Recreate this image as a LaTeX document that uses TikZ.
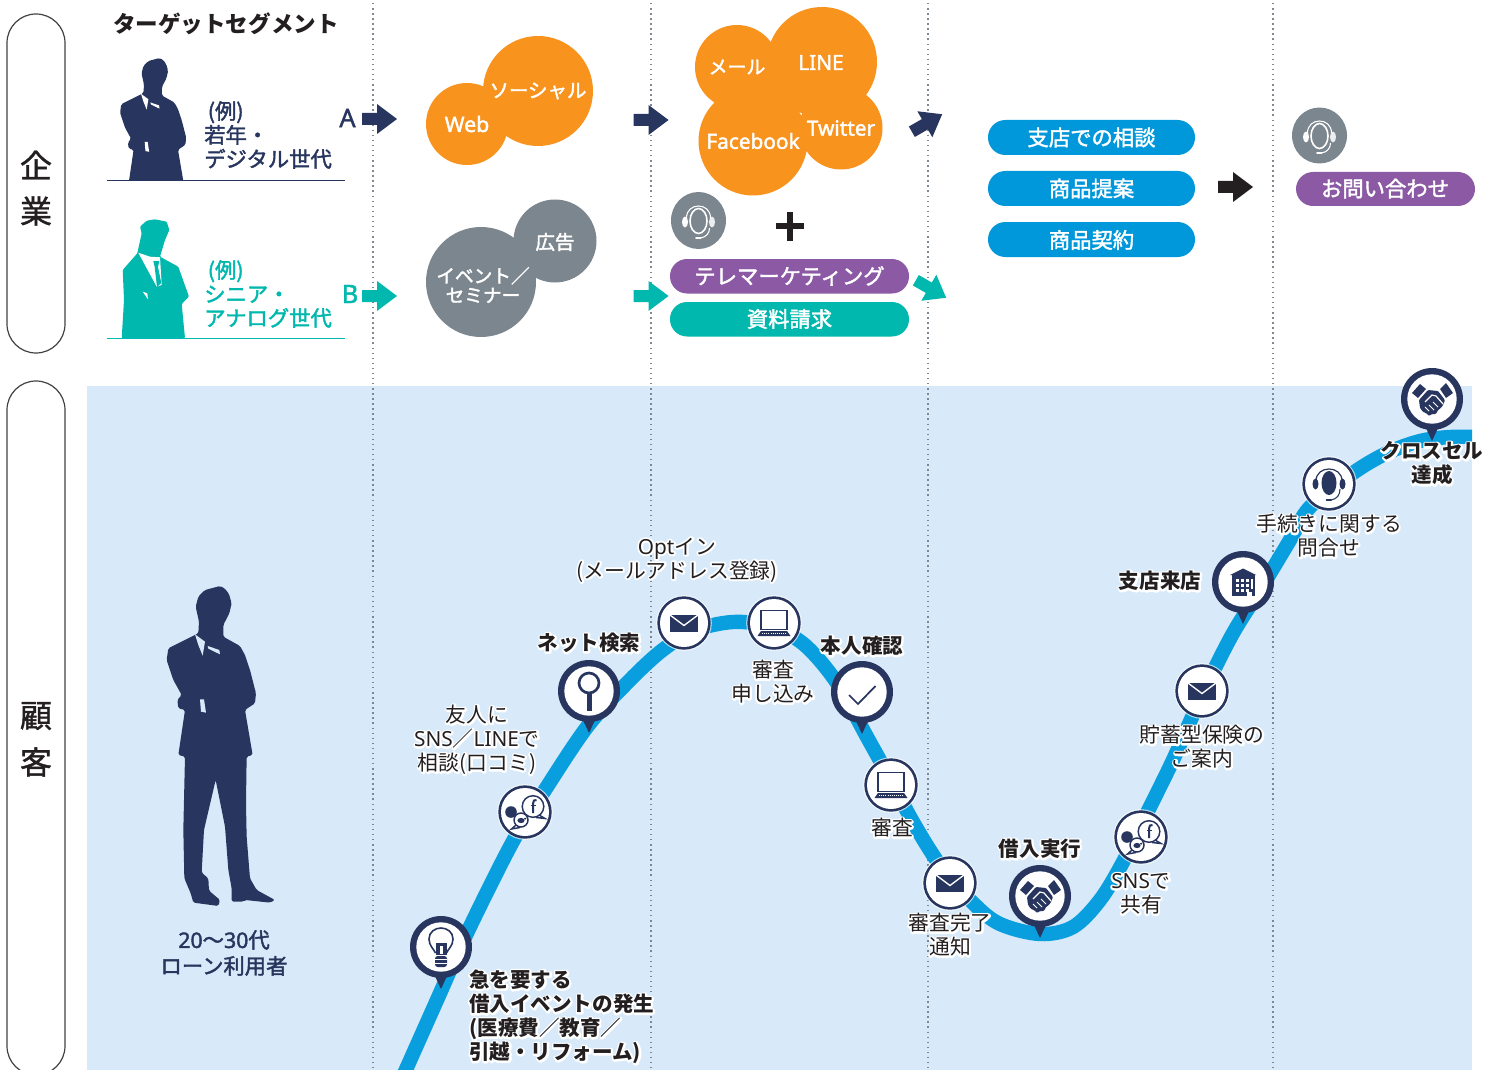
\documentclass[tikz,border=0pt]{standalone}
\usepackage{fontspec}
\setmainfont{Noto Sans CJK JP}
\newfontfamily\lafont{Noto Sans}
\definecolor{navy}{HTML}{28365F}
\definecolor{tealc}{HTML}{00B8AD}
\definecolor{orangec}{HTML}{F8931D}
\definecolor{grayc}{HTML}{7C868E}
\definecolor{purplec}{HTML}{8C5AA5}
\definecolor{bluec}{HTML}{0098DA}
\definecolor{curvec}{HTML}{099EDD}
\definecolor{skyc}{HTML}{D8EAF9}
\definecolor{inkc}{HTML}{231F20}
\definecolor{dotc}{HTML}{7F8890}
\newcommand\la[1]{{\lafont #1}}
% white outline under a line of text
\newcommand\hl[1]{\leavevmode\rlap{\special{pdf:code 1 1 1 RG 1 Tr 2.8 w 1 j}#1\special{pdf:code 0 Tr 0 j 0 0 0 RG}}#1}
% slightly heavier text, stroked in its own colour
\newcommand\md[1]{\special{pdf:code 2 Tr 0.3 w}#1\special{pdf:code 0 Tr}}
% standing figure outline
\newcommand\manpath{(270,48) -- (285,56) -- (297,72) -- (305,100) -- (298,130) -- (280,165) -- (280,200) -- (330,228) -- (345,255) -- (360,300) -- (378,370) -- (375,400) -- (345,420) -- (368,555) -- (350,560) -- (348,700) -- (350,800) -- (360,925) -- (380,960) -- (435,990) -- (420,998) -- (345,990) -- (340,995) -- (305,995) -- (305,955) -- (295,900) -- (285,770) -- (257,630) -- (222,780) -- (215,908) -- (235,925) -- (237,962) -- (270,990) -- (265,1008) -- (190,998) -- (182,970) -- (163,925) -- (160,780) -- (165,560) -- (145,555) -- (165,420) -- (145,415) -- (142,390) -- (155,375) -- (130,330) -- (110,270) -- (115,235) -- (185,200) -- (205,190) -- (207,155) -- (197,110) -- (205,80) -- (225,60) -- cycle}
\newcommand\manfigure[2]{%
  \fill[navy,rounded corners=1.2pt] \manpath;
  \fill[#1] (195,193) -- (225,215) -- (218,257) -- (205,225) -- cycle;
  \fill[#1] (233,228) -- (268,240) -- (270,253) -- (235,236) -- cycle;
  \fill[#1] (210,388) -- (222,388) -- (228,428) -- (213,425) -- cycle;
}
\tikzset{
  x=.75pt,y=-.75pt,
  band/.style={draw=inkc!85,line width=.9pt,fill=none,rounded corners=21.7pt},
  bubbleo/.style={fill=orangec},
  bubbleg/.style={fill=grayc},
  sep/.style={draw=dotc,line width=1.4pt,dash pattern=on 1.1pt off 2.7pt},
  pillp/.style={fill=purplec,rounded corners=12.8pt},
  pillt/.style={fill=tealc,rounded corners=12.8pt},
  pillb/.style={fill=bluec,rounded corners=13pt},
  wtxt/.style={text=white,inner sep=0pt,font=\fontsize{15.8}{18}\selectfont},
  ptxt/.style={text=white,inner sep=0pt,font=\fontsize{16}{18}\selectfont},
  seg/.style={inner sep=0pt,align=left,anchor=west,font=\fontsize{16}{18}\selectfont},
  lbl/.style={inner sep=0pt,align=center,text=inkc,font=\fontsize{15.6}{18}\selectfont},
  lblb/.style={lbl,font=\fontsize{15.4}{18}\selectfont\bfseries},
  pics/arrowblock/.style={code={
    \fill[#1] (-17.5,-6) -- (-2.5,-6) -- (-2.5,-15) -- (17.5,0) -- (-2.5,15) -- (-2.5,6) -- (-17.5,6) -- cycle;}},
  pics/bigpin/.style={code={
    \fill[navy] (-6.5,28) -- (0,42) -- (6.5,28) -- cycle;
    \fill[navy] (0,0) circle[radius=31];
    \fill[white] (0,0) circle[radius=24.7];}},
  pics/smallpin/.style={code={
    \fill[white,opacity=.7] (0,0) circle[radius=27.8];
    \fill[navy] (0,0) circle[radius=26.7];
    \fill[white] (0,0) circle[radius=24];}},
  pics/mailicon/.style={code={
    \fill[navy] (-14,-8.5) rectangle (14,8.5);
    \draw[white,line width=1pt] (-14,-8) -- (0,2.5) -- (14,-8);}},
  pics/laptopicon/.style={code={
    \draw[navy,line width=1.1pt] (-13,-12.5) rectangle (13,6.5);
    \fill[navy] (-13,8) -- (13,8) -- (16.5,13) -- (-16.5,13) -- cycle;
    \draw[white,line width=.7pt,dash pattern=on .8pt off .8pt] (-12,10) -- (12,10);}},
  pics/lensicon/.style={code={
    \draw[navy,line width=2pt] (0,-8) circle[radius=10];
    \fill[navy] (-2.5,3) rectangle (2.5,20);}},
  pics/checkicon/.style={code={
    \draw[navy,line width=1.3pt] (-13,3) -- (-4,12) -- (13.5,-6);}},
  pics/bulbicon/.style={code={
    \draw[navy,line width=1.2pt] (-5.5,6) .. controls (-7,2) and (-12,-1) .. (-12,-8) .. controls (-12,-15) and (-6,-19) .. (0,-19) .. controls (6,-19) and (12,-15) .. (12,-8) .. controls (12,-1) and (7,2) .. (5.5,6);
    \fill[navy] (-5.5,-4) -- (5.5,-4) -- (5.5,8) -- (-5.5,8) -- cycle;
    \fill[white] (-1.5,-1.5) rectangle (1.5,7);
    \fill[navy,rounded corners=2pt] (-6,9) rectangle (6,20);
    \draw[white,line width=.6pt] (-6,12.5) -- (6,12.5) (-6,16) -- (6,16);}},
  pics/snsicon/.style={code={
    \fill[navy] (-14,0) circle[radius=5.8];
    \draw[navy,fill=white,line width=1.1pt] (-9,13) -- (-13.5,17) -- (-5,15.5);
    \draw[navy,fill=white,line width=1.1pt] (-4,8) circle[radius=7];
    \fill[navy] (-4,8.5) ellipse[x radius=3.6,y radius=2.6];
    \fill[navy] (-1,6.2) -- (2,5.5) -- (0,8) -- cycle;
    \draw[navy,fill=white,line width=1.1pt] (14,3) -- (20,6.5) -- (11,5.5);
    \draw[navy,fill=white,line width=1.1pt] (8,-5.5) circle[radius=10.8];
    \draw[navy,line width=1.5pt] (11.5,-12) .. controls (9,-12.5) and (8.2,-11) .. (8.2,-9) -- (8.2,1);
    \draw[navy,line width=1.4pt] (5.5,-6.5) -- (11,-6.5);}},
  pics/handicon/.style={code={
    \fill[navy] (-20,-6) -- (-12,-15) -- (-6,-10) -- (-14,-1) -- cycle;
    \fill[navy] (8,-10) -- (14,-16) -- (21,-6) -- (14,-1) -- cycle;
    \fill[navy,rounded corners=.8pt] (-13,1) -- (-4,-9) -- (6,-8) -- (13,1) -- (11,6) -- (9,9) -- (6,11) -- (4,15) -- (0,15) -- (-3,17) -- (-6,14) -- (-9,13) -- (-12,9) -- cycle;
    \draw[white,line width=.9pt] (-7,3) -- (0,-4) -- (4,-3) -- (11,5);
    \draw[white,line width=.7pt] (-7,8) -- (-3,12) (-3,6) -- (2,11) (1,3) -- (6,8);}},
  pics/buildicon/.style={code={
    \fill[navy] (-13,-7) -- (0,-13.5) -- (13,-7) -- cycle;
    \fill[navy] (-11,-7) rectangle (12,14);
    \foreach \gx in {-7.5,-2.5,2.5}
      \foreach \gy in {-3.5,1.5,6.5}
        \fill[white] (\gx,\gy) rectangle ++(3,3);
    \fill[white] (3.5,9.5) rectangle (9,14);
    \fill[white] (7.5,-3.5) rectangle (9.5,7);}},
  pics/headicon/.style={code={
    \fill[navy] (0,-1) ellipse[x radius=7.5,y radius=12];
    \draw[navy,line width=.9pt] (-13,-3) .. controls (-13,-19) and (13,-19) .. (13,-3);
    \fill[navy] (-13.5,0) ellipse[x radius=3,y radius=5.5];
    \fill[navy] (13.5,0) ellipse[x radius=3,y radius=5.5];
    \draw[navy,line width=.8pt] (11,5) .. controls (11,11) and (8,15) .. (2,16);
    \draw[navy,line width=1.5pt,line cap=round] (-2.5,16) -- (2,16);}},
  pics/headwhite/.style={code={
    \draw[white,line width=1.2pt] (0,-1) ellipse[x radius=8.5,y radius=12.5];
    \draw[white,line width=.8pt] (-12,-4) .. controls (-12,-20) and (12,-20) .. (12,-4);
    \fill[white] (-13.5,0) ellipse[x radius=3,y radius=5.5];
    \fill[white!85!grayc] (13.5,0) ellipse[x radius=3,y radius=5.5];
    \draw[white,line width=.8pt] (11,6) .. controls (11,11) and (8,15) .. (2,16);
    \draw[white,line width=1.5pt,line cap=round] (-2.5,16) -- (2,16);}},
}
\begin{document}
\begin{tikzpicture}
\useasboundingbox (0,0) rectangle (1499,1070);
\begin{scope}
\clip (0,0) rectangle (1499,1070);

% section bands
\draw[band] (7,14) rectangle (65,353);
\draw[band] (7,381) rectangle (65,1075);

% customer area
\fill[skyc] (87,386) rectangle (1472,1070);

% phase separators
\foreach \sx/\sn in {373/a,651/b,928/c,1273/d}
  \draw[sep] (\sx,3) -- (\sx,1070);

% journey curve
\begin{scope}
\clip (87,386) rectangle (1472,1070);
\draw[curvec,line width=10.8pt] plot[smooth,tension=.55] coordinates {
  (404,1074) (437,1000) (467,933) (512,843) (543,793) (587,727) (627,683) (660,652)
  (690,632) (713,625) (733,622) (752,623) (780,630) (807,647) (837,683) (867,737) (888,775)
  (913,822) (940,865) (973,903) (1000,924) (1040,934) (1073,927) (1100,900) (1123,862)
  (1147,813) (1173,760) (1202,695) (1232,635) (1260,590) (1290,540) (1310,507) (1353,473)
  (1387,453) (1420,441) (1450,437) (1480,437)};
\end{scope}

% target segment figures
\begin{scope}
\clip (100,40) rectangle (200,180);
\begin{scope}[shift={(92.9,46.2)},scale=.2467]
\manfigure{white}{}
\end{scope}
\end{scope}
\fill[tealc,rounded corners=.8pt] (155,219.3) -- (166.7,221.7) -- (169.3,230) -- (165,240) -- (160,256.7) -- (178.3,266.7) -- (189,296.7) -- (181.7,304) -- (185,338.3) -- (121.7,338.3) -- (124,300) -- (122.7,270) -- (137.3,253.3) -- (141.7,233.3) -- (140,226.7) -- (146.7,220.7) -- cycle;
\fill[white] (138.3,252.7) -- (156.7,286.7) -- (161.7,285) -- (160,257.3) -- (150,256.7) -- cycle;
\fill[tealc] (153.3,261) -- (159.3,261) -- (158,267) -- (161.3,283) -- (157,287) -- (154.7,267) -- cycle;
\fill[white] (142.7,291.7) -- (147.3,293.3) -- (148,299.3) -- cycle;
\draw[navy,line width=.9pt] (107,180.3) -- (345,180.3);
\draw[tealc,line width=.9pt] (107,338.5) -- (345,338.5);

% channel bubbles
\fill[bubbleo] (467,124) circle[radius=41] (538,91) circle[radius=55];
\fill[bubbleo] (737,67) circle[radius=42] (822,62) circle[radius=55] (753,141) circle[radius=54.5] (841,128) circle[radius=41.5];
\fill[bubbleo] (770,90) circle[radius=25];
\fill[bubbleg] (555,241) circle[radius=41.5] (481,282) circle[radius=55];

% telemarketing block
\fill[grayc] (698.5,220.5) ellipse[x radius=27.5,y radius=28.5];
\pic at (698.5,222) {headwhite};
\fill[inkc] (776,223) rectangle (804,229);
\fill[inkc] (787,212) rectangle (793,241);
\fill[pillp] (670,259) rectangle (909,293.5);
\fill[pillt] (670,302) rectangle (909,336.5);

% action pills
\fill[pillb] (988,120) rectangle (1195,155);
\fill[pillb] (988,171) rectangle (1195,206);
\fill[pillb] (988,222) rectangle (1195,257);
\fill[grayc] (1319.5,135.5) ellipse[x radius=27.5,y radius=28];
\pic at (1319.5,137) {headwhite};
\fill[pillp] (1296,172) rectangle (1475,206);

% block arrows
\pic at (379.5,119) {arrowblock=navy};
\pic at (651,120) {arrowblock=navy};
\pic[rotate=30] at (927,123) {arrowblock=navy};
\pic at (379.5,296) {arrowblock=tealc};
\pic at (651,296) {arrowblock=tealc};
\pic[rotate=-30] at (931,289) {arrowblock=tealc};
\pic at (1235.5,187) {arrowblock=inkc};

% customer figure
\begin{scope}[shift={(130,570)},scale=.3333]
\manfigure{skyc}{}
\end{scope}

% journey markers
\pic (p1) at (441,947) {bigpin}; \pic at (441,947) {bulbicon};
\pic (p2) at (525,812) {smallpin}; \pic at (525,812) {snsicon};
\pic (p3) at (589,691) {bigpin}; \pic at (589,691) {lensicon};
\pic (p4) at (684,623) {smallpin}; \pic at (684,623) {mailicon};
\pic (p5) at (774,623) {smallpin}; \pic at (774,623) {laptopicon};
\pic (p6) at (862,692) {bigpin}; \pic at (862,692) {checkicon};
\pic (p7) at (891,785) {smallpin}; \pic at (891,785) {laptopicon};
\pic (p8) at (950,883) {smallpin}; \pic at (950,883) {mailicon};
\pic (p9) at (1040,896) {bigpin}; \pic at (1040,896) {handicon};
\pic (p10) at (1141,837) {smallpin}; \pic at (1141,837) {snsicon};
\pic (p11) at (1202,691) {smallpin}; \pic at (1202,691) {mailicon};
\pic (p12) at (1243,582) {bigpin}; \pic at (1243,582) {buildicon};
\pic (p13) at (1329,484) {smallpin}; \pic at (1329,484) {headicon};
\pic (p14) at (1432,399) {bigpin}; \pic at (1432,399) {handicon};
\end{scope}

% upper text
\node[text=inkc,inner sep=0pt,anchor=west,font=\fontsize{16.9}{20}\selectfont\bfseries] (title) at (113,24) {ターゲットセグメント};
\node[text=inkc,inner sep=0pt,font=\fontsize{24}{26}\selectfont] (bandA1) at (36,165) {\md{企}};
\node[text=inkc,inner sep=0pt,font=\fontsize{24}{26}\selectfont] (bandA2) at (36,211) {\md{業}};
\node[text=inkc,inner sep=0pt,font=\fontsize{24}{26}\selectfont] (bandB1) at (36,716) {\md{顧}};
\node[text=inkc,inner sep=0pt,font=\fontsize{24}{26}\selectfont] (bandB2) at (36,762) {\md{客}};
\node[seg,text=navy] (segA) at (204,135) {\md{\,(例)}\\\md{若年・}\\\md{デジタル世代}};
\node[seg,text=tealc] (segB) at (204,294) {\md{\,(例)}\\\md{シニア・}\\\md{アナログ世代}};
\node[text=navy,inner sep=0pt,font=\fontsize{19}{20}\selectfont\lafont] (letA) at (347.5,118) {\md{A}};
\node[text=tealc,inner sep=0pt,font=\fontsize{19}{20}\selectfont\lafont] (letB) at (350,294) {\md{B}};
\node[wtxt,font=\fontsize{16}{18}\selectfont\lafont] (web) at (467,124) {\md{Web}};
\node[wtxt,font=\fontsize{14.6}{18}\selectfont] (social) at (538,91) {\md{ソーシャル}};
\node[wtxt,font=\fontsize{14.2}{18}\selectfont] (mail) at (737,67) {\md{メール}};
\node[wtxt,font=\fontsize{15.6}{18}\selectfont\lafont] (line) at (821,62.5) {\md{LINE}};
\node[wtxt,font=\fontsize{15.6}{18}\selectfont\lafont] (fb) at (753,141) {\md{Facebook}};
\node[wtxt,font=\fontsize{15.6}{18}\selectfont\lafont] (tw) at (841,128) {\md{Twitter}};
\node[wtxt,font=\fontsize{14.6}{18}\selectfont] (ad) at (555,242) {\md{広告}};
\node[wtxt,align=center,font=\fontsize{14}{14.5}\selectfont] (event) at (483,285) {\md{イベント／}\\\md{セミナー}};
\node[ptxt] (tele) at (789.5,276) {\md{テレマーケティング}};
\node[ptxt] (docs) at (789.5,319) {\md{資料請求}};
\node[ptxt] (act1) at (1091.5,137.5) {\md{支店での相談}};
\node[ptxt] (act2) at (1091.5,188.5) {\md{商品提案}};
\node[ptxt] (act3) at (1091.5,240) {\md{商品契約}};
\node[ptxt] (ask) at (1385,188.5) {\md{お問い合わせ}};
\node[lbl,text=navy,font=\fontsize{16}{19.5}\selectfont] (cust) at (224,953) {\md{\la{20}〜\la{30}代}\\\md{ローン利用者}};

% journey labels
\node[lblb,align=left,anchor=west] (t1) at (469,1017) {\hl{急を要する}\\\hl{借入イベントの発生}\\\hl{(医療費／教育／}\\\hl{引越・リフォーム)}};
\node[lbl] (t2) at (477,740) {\hl{友人に}\\\hl{\la{SNS}／\la{LINE}で}\\\hl{相談(口コミ)}};
\node[lblb] (t3) at (589,643) {\hl{ネット検索}};
\node[lbl] (t4) at (677,560) {\hl{\la{Opt}イン}\\\hl{(メールアドレス登録)}};
\node[lbl] (t5) at (773,682) {\hl{審査}\\\hl{申し込み}};
\node[lblb] (t6) at (862,646) {\hl{本人確認}};
\node[lbl] (t7) at (892,828) {\hl{審査}};
\node[lbl] (t8) at (950,935) {\hl{審査完了}\\\hl{通知}};
\node[lblb] (t9) at (1040,849) {\hl{借入実行}};
\node[lbl] (t10) at (1141,894) {\hl{\la{SNS}で}\\\hl{共有}};
\node[lbl] (t11) at (1202,747) {\hl{貯蓄型保険の}\\\hl{ご案内}};
\node[lblb] (t12) at (1160,581) {\hl{支店来店}};
\node[lbl] (t13) at (1329,536) {\hl{手続きに関する}\\\hl{問合せ}};
\node[lblb] (t14) at (1432,463.5) {\hl{クロスセル}\\\hl{達成}};
\end{tikzpicture}
\end{document}
